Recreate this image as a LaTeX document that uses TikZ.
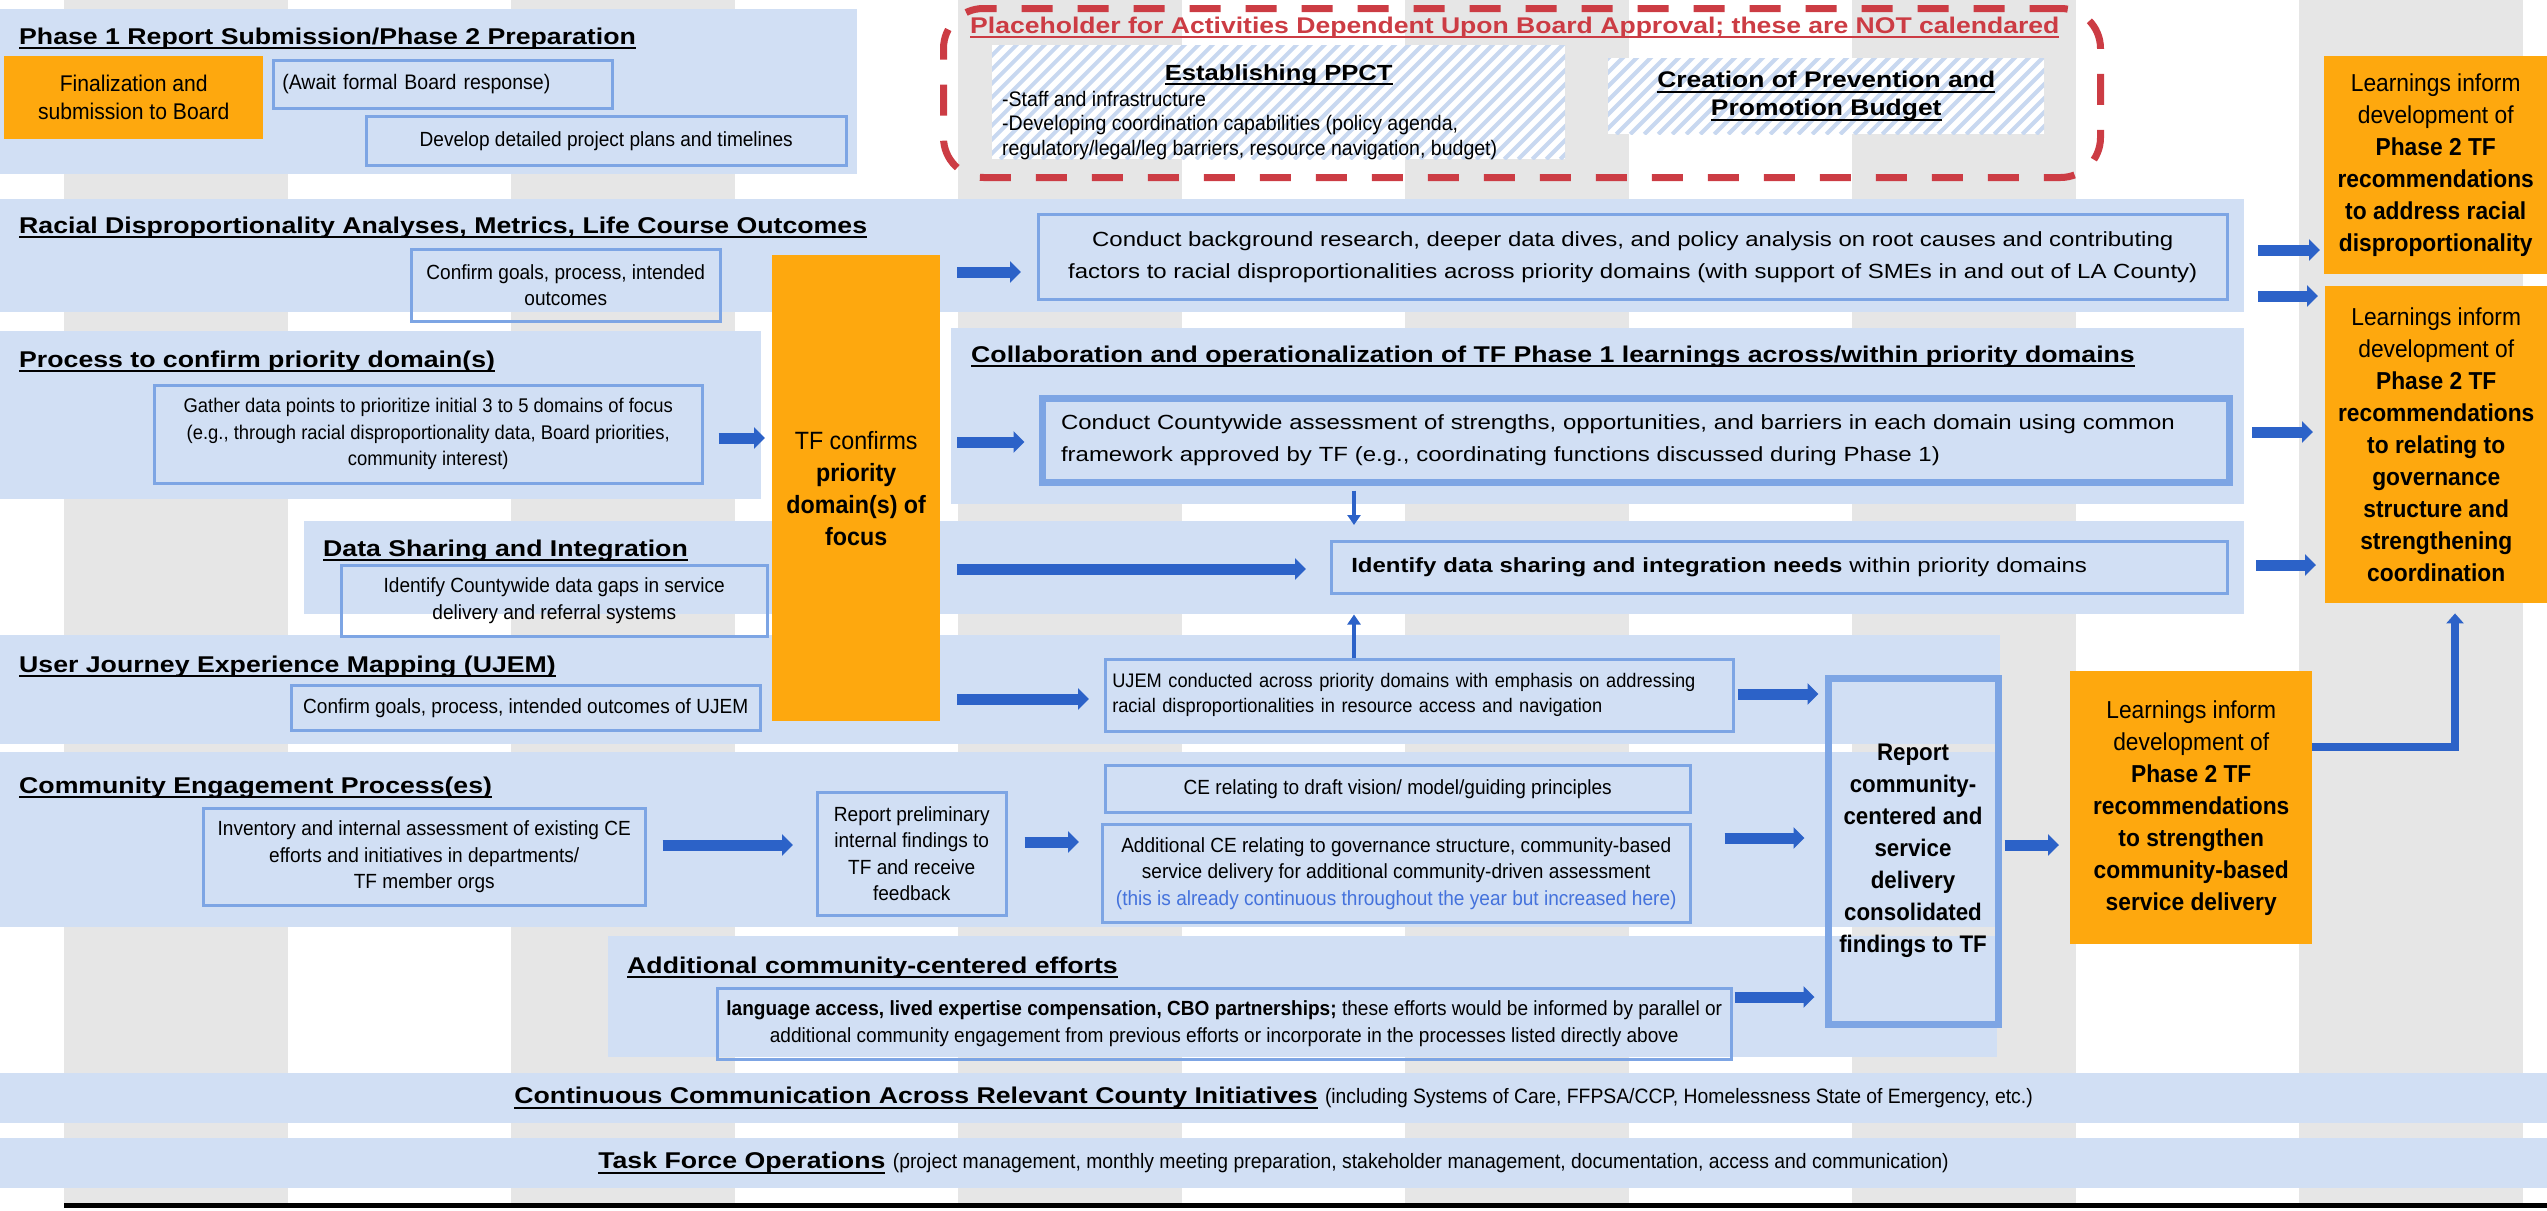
\documentclass[tikz,border=0pt]{standalone}
\usepackage{fontspec}
\setmainfont{Liberation Sans}
\newfontfamily\widefont[FakeStretch=1.17]{Liberation Sans}
\newfontfamily\narfont[FakeStretch=0.93]{Liberation Sans}
\newcommand{\uln}[1]{\setbox0=\hbox{#1}\rlap{\vrule height -2.8pt depth 4.8pt width \wd0}\box0\relax}
\usetikzlibrary{arrows.meta, positioning, calc}
\definecolor{bandblue}{RGB}{209,223,244}
\definecolor{boxline}{RGB}{125,165,228}
\definecolor{orangefill}{RGB}{254,168,14}
\definecolor{colgray}{RGB}{230,230,230}
\definecolor{redline}{RGB}{204,60,68}
\definecolor{arrowblue}{RGB}{44,98,200}
\definecolor{textblue}{RGB}{68,114,220}
\definecolor{hatchblue}{RGB}{200,216,240}
\tikzset{
  band/.style={rectangle, fill=bandblue, anchor=north west, inner sep=0pt, outer sep=0pt},
  bx/.style={rectangle, draw=boxline, line width=2.5pt, anchor=north west,
             inner sep=0pt, align=center, font=\narfont\fontsize{20.5}{26.5}\selectfont},
  thickbx/.style={bx, line width=7pt},
  widebx/.style={bx, font=\widefont\fontsize{20.5}{32}\selectfont},
  orng/.style={rectangle, fill=orangefill, anchor=north west, inner sep=0pt,
               align=center, font=\narfont\fontsize{24.5}{32}\selectfont},
  ttl/.style={anchor=base west, inner sep=0pt, font=\widefont\bfseries\fontsize{22.8}{28}\selectfont},
  hatched/.style={rectangle, fill=white, anchor=north west, inner sep=0pt,
    path picture={\foreach \k in {0,...,56}
      \draw[hatchblue, line width=4pt] ([xshift=\k*14pt-160pt]path picture bounding box.south west) -- ++(170,-170);}},
  bigarr/.style={draw=arrowblue, line width=11pt, -{Triangle[length=11pt,width=21pt]}},
  thinarr/.style={draw=arrowblue, line width=4.5pt, -{Triangle[length=10pt,width=13pt]}},
  elbarr/.style={draw=arrowblue, line width=8pt, -{Triangle[length=10pt,width=17pt]}},
}
\begin{document}
\begin{tikzpicture}[x=1pt, y=-1pt]
\useasboundingbox (0,0) rectangle (2547,1210);
% timeline columns
\foreach \c in {0,...,5}
  \fill[colgray] (64+447*\c,0) rectangle ++(224,1203);
\draw[line width=5pt] (64,1205.5) -- (2547,1205.5);

% swimlanes
\node[band, minimum width=857pt, minimum height=165pt] (bphase) at (0,9) {};
\node[band, minimum width=2244pt, minimum height=113pt] (bracial) at (0,199) {};
\node[band, minimum width=761pt, minimum height=168pt] (bprocess) at (0,331) {};
\node[band, minimum width=1293pt, minimum height=176pt] (bcollab) at (951,328) {};
\node[band, minimum width=1940pt, minimum height=93pt] (bdata) at (304,521) {};
\node[band, minimum width=2000pt, minimum height=109pt] (bujem) at (0,635) {};
\node[band, minimum width=2000pt, minimum height=175pt] (bce) at (0,752) {};
\node[band, minimum width=1389pt, minimum height=121pt] (baddl) at (608,936) {};
\node[band, minimum width=2547pt, minimum height=50pt] (bcomm) at (0,1073) {};
\node[band, minimum width=2547pt, minimum height=50pt] (btfo) at (0,1138) {};

% lane titles
\node[ttl] (tphase) at (19,44) {\uln{Phase 1 Report Submission/Phase 2 Preparation}};
\node[ttl] (tracial) at (19,233) {\uln{Racial Disproportionality Analyses, Metrics, Life Course Outcomes}};
\node[ttl] (tprocess) at (19,367) {\uln{Process to confirm priority domain(s)}};
\node[ttl] (tcollab) at (971,362) {\uln{Collaboration and operationalization of TF Phase 1 learnings across/within priority domains}};
\node[ttl] (tdata) at (323,556) {\uln{Data Sharing and Integration}};
\node[ttl] (tujem) at (19,672) {\uln{User Journey Experience Mapping (UJEM)}};
\node[ttl] (tce) at (19,793) {\uln{Community Engagement Process(es)}};
\node[ttl] (taddl) at (627,973) {\uln{Additional community-centered efforts}};

% placeholder (not calendared)
\node[rectangle, draw=redline, line width=7pt, dash pattern=on 31pt off 25pt,
      rounded corners=40pt, anchor=north west, minimum width=1157pt, minimum height=169pt] (place) at (940,5) {};
\node[ttl, text=redline, font=\widefont\bfseries\fontsize{22.7}{26}\selectfont] (tplace) at (970,33)
  {\uln{Placeholder for Activities Dependent Upon Board Approval; these are NOT calendared}};
\node[hatched, minimum width=573pt, minimum height=114pt] (hppct) at (992,45) {};
\node[anchor=base, inner sep=0pt, font=\widefont\bfseries\fontsize{21.9}{26}\selectfont] (tppct)
  at ([yshift=-35pt]hppct.north) {\uln{Establishing PPCT}};
\node[anchor=north west, inner sep=0pt, align=left, font=\narfont\fontsize{21}{24.5}\selectfont] (lppct)
  at ([xshift=10pt, yshift=-46pt]hppct.north west)
  {-Staff and infrastructure\\-Developing coordination capabilities (policy agenda,\\regulatory/legal/leg barriers, resource navigation, budget)};
\node[hatched, minimum width=436pt, minimum height=76pt, align=center,
      font=\widefont\bfseries\fontsize{22.6}{28}\selectfont] (hbudget) at (1608,58)
  {\uln{Creation of Prevention and}\\\uln{Promotion Budget}};

% phase 1 / phase 2 boxes
\node[orng, minimum width=259pt, minimum height=83pt, font=\narfont\fontsize{22.7}{28}\selectfont] (ofinal) at (4,56)
  {Finalization and\\submission to Board};
\node[bx, text width=321pt, inner xsep=9pt, minimum height=48pt, align=left, font=\narfont\fontsize{21}{26}\selectfont] (bawait) at (272,59)
  {(Await formal Board response)};
\node[bx, minimum width=480pt, minimum height=49pt] (bplans) at (365,115)
  {Develop detailed project plans and timelines};

% left column
\node[bx, minimum width=309pt, minimum height=72pt] (bgoals) at (410,248)
  {Confirm goals, process, intended\\outcomes};
\node[bx, minimum width=548pt, minimum height=98pt, font=\narfont\fontsize{19.8}{26.5}\selectfont] (bgather) at (153,384)
  {Gather data points to prioritize initial 3 to 5 domains of focus\\(e.g., through racial disproportionality data, Board priorities,\\community interest)};
\node[bx, minimum width=426pt, minimum height=71pt] (bgaps) at (340,564)
  {Identify Countywide data gaps in service\\delivery and referral systems};
\node[bx, minimum width=469pt, minimum height=45pt] (bujgoals) at (290,684)
  {Confirm goals, process, intended outcomes of UJEM};
\node[bx, minimum width=442pt, minimum height=97pt] (binventory) at (202,807)
  {Inventory and internal assessment of existing CE\\efforts and initiatives in departments/\\TF member orgs};
\node[bx, minimum width=189pt, minimum height=123pt] (bprelim) at (816,791)
  {Report preliminary\\internal findings to\\TF and receive\\feedback};
\node[orng, minimum width=168pt, minimum height=466pt, font=\narfont\fontsize{25}{32}\selectfont] (ofocus) at (772,255)
  {TF confirms\\\textbf{priority}\\\textbf{domain(s) of}\\\textbf{focus}};

% right column
\node[widebx, minimum width=1189pt, minimum height=85pt] (bresearch) at (1037,213)
  {Conduct background research, deeper data dives, and policy analysis on root causes and contributing\\factors to racial disproportionalities across priority domains (with support of SMEs in and out of LA County)};
\node[widebx, thickbx, font=\widefont\fontsize{20.5}{32}\selectfont, text width=1149pt, inner xsep=19pt,
      minimum height=84pt, align=left] (bassess) at (1038.5,394.5)
  {Conduct Countywide assessment of strengths, opportunities, and barriers in each domain using common\\framework approved by TF (e.g., coordinating functions discussed during Phase 1)};
\node[widebx, text width=856pt, inner xsep=20pt, minimum height=52pt, align=left] (bneeds) at (1330,540)
  {\textbf{Identify data sharing and integration needs} within priority domains};
\node[bx, text width=614pt, inner xsep=7pt, minimum height=72pt, align=left, font=\narfont\fontsize{19.6}{25}\selectfont] (bujconduct) at (1104,658)
  {UJEM conducted across priority domains with emphasis on addressing\\racial disproportionalities in resource access and navigation};
\node[bx, minimum width=585pt, minimum height=47pt] (bvision) at (1104,764)
  {CE relating to draft vision/ model/guiding principles};
\node[bx, minimum width=588pt, minimum height=98pt] (baddce) at (1101,823)
  {Additional CE relating to governance structure, community-based\\service delivery for additional community-driven assessment\\{\color{textblue}(this is already continuous throughout the year but increased here)}};
\node[bx, minimum width=1014pt, minimum height=71pt] (baddlbox) at (716,987)
  {\textbf{language access, lived expertise compensation, CBO partnerships;} these efforts would be informed by parallel or\\additional community engagement from previous efforts or incorporate in the processes listed directly above};
\node[thickbx, minimum width=170pt, minimum height=346pt, font=\narfont\bfseries\fontsize{24}{32}\selectfont] (breport) at (1824.5,674.5)
  {Report\\community-\\centered and\\service\\delivery\\consolidated\\findings to TF};

% learnings
\node[orng, minimum width=223pt, minimum height=218pt] (olearn1) at (2324,56)
  {Learnings inform\\development of\\\textbf{Phase 2 TF}\\\textbf{recommendations}\\\textbf{to address racial}\\\textbf{disproportionality}};
\node[orng, minimum width=222pt, minimum height=317pt] (olearn2) at (2325,286)
  {Learnings inform\\development of\\\textbf{Phase 2 TF}\\\textbf{recommendations}\\\textbf{to relating to}\\\textbf{governance}\\\textbf{structure and}\\\textbf{strengthening}\\\textbf{coordination}};
\node[orng, minimum width=242pt, minimum height=273pt] (olearn3) at (2070,671)
  {Learnings inform\\development of\\\textbf{Phase 2 TF}\\\textbf{recommendations}\\\textbf{to strengthen}\\\textbf{community-based}\\\textbf{service delivery}};

% continuous lanes
\node[inner sep=0pt, font=\widefont\bfseries\fontsize{22.8}{28}\selectfont] (tcomm) at (bcomm.center)
  {\uln{Continuous Communication Across Relevant County Initiatives} {\narfont\mdseries\fontsize{20.8}{24}\selectfont(including Systems of Care, FFPSA/CCP, Homelessness State of Emergency, etc.)}};
\node[inner sep=0pt, font=\widefont\bfseries\fontsize{22.8}{28}\selectfont] (ttfo) at (btfo.center)
  {\uln{Task Force Operations} {\narfont\mdseries\fontsize{20.8}{24}\selectfont(project management, monthly meeting preparation, stakeholder management, documentation, access and communication)}};

% arrows
\draw[bigarr, shorten <=17pt, shorten >=16pt] (ofocus.east |- 0,272) -- (bresearch.west |- 0,272);
\draw[bigarr, shorten <=17pt, shorten >=14pt] (ofocus.east |- 0,442) -- (bassess.west |- 0,442);
\draw[bigarr, shorten <=17pt, shorten >=24pt] (ofocus.east |- 0,569) -- (bneeds.west |- 0,569);
\draw[bigarr, shorten <=17pt, shorten >=15pt] (ofocus.east |- 0,699) -- (bujconduct.west |- 0,699);
\draw[bigarr, shorten <=15pt, shorten >=7pt] (bgather.east |- 0,438) -- (ofocus.west |- 0,438);
\draw[bigarr, shorten <=14pt, shorten >=4pt] (bracial.east |- 0,250) -- (olearn1.west |- 0,250);
\draw[bigarr, shorten <=14pt, shorten >=7pt] (bracial.east |- 0,296) -- (olearn2.west |- 0,296);
\draw[bigarr, shorten <=8pt, shorten >=12pt] (bcollab.east |- 0,432) -- (olearn2.west |- 0,432);
\draw[bigarr, shorten <=12pt, shorten >=9pt] (bdata.east |- 0,565) -- (olearn2.west |- 0,565);
\draw[bigarr, shorten <=3pt, shorten >=6pt] (bujconduct.east |- 0,694) -- (breport.west |- 0,694);
\draw[bigarr, shorten <=33pt, shorten >=20pt] (baddce.east |- 0,838) -- (breport.west |- 0,838);
\draw[bigarr, shorten <=2pt, shorten >=10pt] (baddlbox.east |- 0,997) -- (breport.west |- 0,997);
\draw[bigarr, shorten <=3pt, shorten >=11pt] (breport.east |- 0,845) -- (olearn3.west |- 0,845);
\draw[bigarr, shorten <=16pt, shorten >=23pt] (binventory.east |- 0,845) -- (bprelim.west |- 0,845);
\draw[bigarr, shorten <=17pt, shorten >=22pt] (bprelim.east |- 0,842) -- (baddce.west |- 0,842);
\draw[thinarr, shorten <=5pt, shorten >=15pt] (bassess.south -| 1354,0) -- (bneeds.north -| 1354,0);
\draw[thinarr, shorten >=20pt] (bujconduct.north -| 1354,0) -- (bneeds.south -| 1354,0);
\draw[elbarr, shorten >=10pt] (olearn3.east |- 0,747) -| (olearn2.south -| 2455,0);
\end{tikzpicture}
\end{document}
